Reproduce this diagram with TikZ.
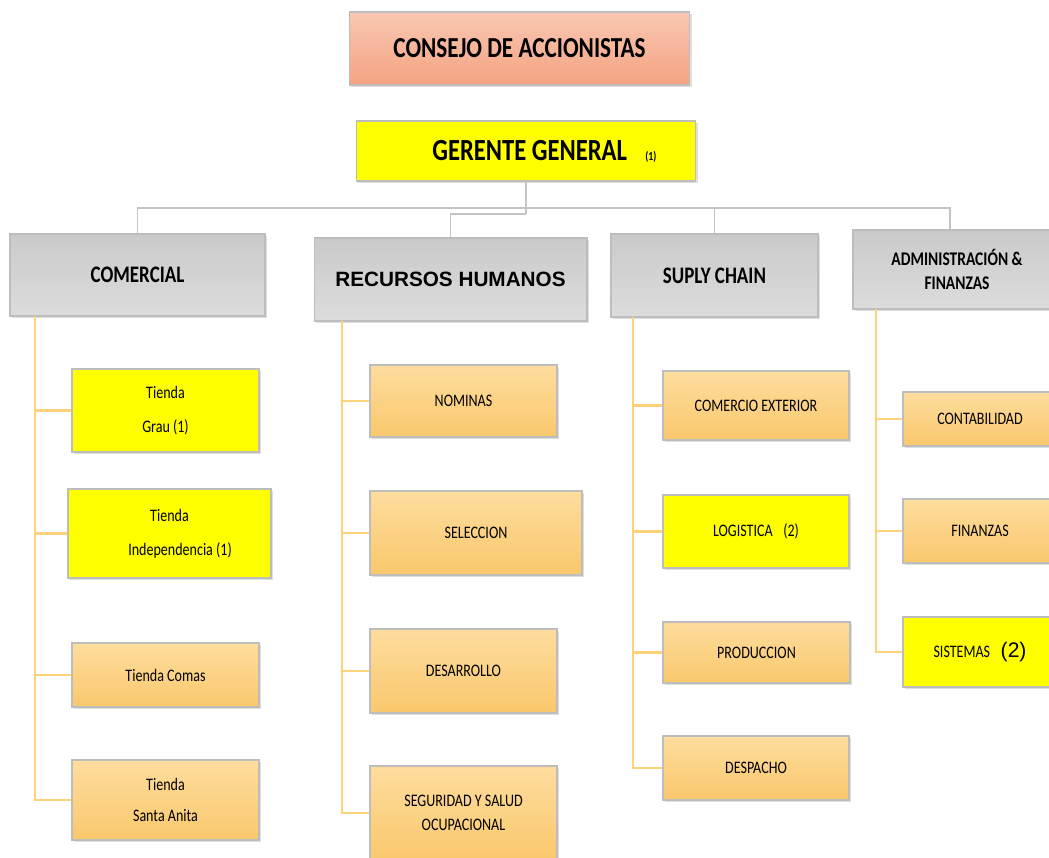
\documentclass[tikz,border=0pt]{standalone}
\usepackage{fontspec}
\setmainfont{Carlito}[FakeStretch=0.8]
\newfontfamily\arialfont{Liberation Sans}
\usetikzlibrary{positioning}
\usetikzlibrary{shadows}

\definecolor{salmontop}{HTML}{F9C8B2}
\definecolor{salmonbot}{HTML}{F4A282}
\definecolor{graytop}{HTML}{CACACA}
\definecolor{graybot}{HTML}{DCDCDC}
\definecolor{orangetop}{HTML}{FEDD9E}
\definecolor{orangebot}{HTML}{F9C86C}
\definecolor{puryellow}{HTML}{FFFF00}
\definecolor{boxline}{HTML}{BDBDBD}
\definecolor{busgray}{HTML}{C4C4C4}
\definecolor{trunkorange}{HTML}{FFD27A}

\tikzset{
    box/.style = {draw=boxline, line width=0.6pt, inner sep=2pt, align=center,
            drop shadow={shadow xshift=1pt, shadow yshift=-1pt, opacity=0.25}},
    headbox/.style = {box, top color=graytop, bottom color=graybot,
            font=\fontsize{13.5}{16}\selectfont\bfseries},
    unitbox/.style = {box, top color=orangetop, bottom color=orangebot,
            font=\fontsize{10}{12.5}\selectfont},
    hotbox/.style = {box, fill=puryellow, font=\fontsize{10}{12.5}\selectfont},
    busline/.style = {draw=busgray, line width=1pt},
    trunk/.style = {draw=trunkorange, line width=1.3pt}
}

\begin{document}
\begin{tikzpicture}[x=0.02cm, y=-0.02cm]
    \useasboundingbox (0,0) rectangle (1049,858);

    % cabeza
    \node[box, top color=salmontop, bottom color=salmonbot,
        minimum width=6.82cm, minimum height=1.46cm,
        font=\fontsize{16.5}{19}\selectfont\bfseries] (consejo) at (519.5,48.5) {CONSEJO DE ACCIONISTAS};
    \node[box, fill=puryellow, minimum width=6.8cm, minimum height=1.2cm,
        font=\fontsize{17.5}{20}\selectfont\bfseries] (gerente) at (526,151)
        {\hspace{1.2em}GERENTE GENERAL\hspace{0.6em}{\fontsize{7}{8}\selectfont (1)}};

    % areas
    \node[headbox, minimum width=5.1cm, minimum height=1.64cm] (com) at (137.5,275) {COMERCIAL};
    \node[headbox, minimum width=5.46cm, minimum height=1.66cm,
        font=\arialfont\fontsize{11.8}{14}\selectfont\bfseries] (rrhh) at (450.5,279.5) {RECURSOS HUMANOS};
    \node[headbox, minimum width=4.14cm, minimum height=1.66cm] (sup) at (714.5,275.5) {SUPLY CHAIN};
    \node[headbox, minimum width=4.16cm, minimum height=1.58cm,
        font=\fontsize{11}{13.5}\selectfont\bfseries] (adm) at (957,269.5) {ADMINISTRACIÓN \&\\FINANZAS};

    % comercial
    \node[hotbox, minimum width=3.74cm, minimum height=1.66cm] (grau) at (165.5,410.5) {Tienda\\[7pt]Grau (1)};
    \node[hotbox, minimum width=4.06cm, minimum height=1.78cm] (indep) at (169.5,533.5) {Tienda\\[7pt]\hspace{1.2em}Independencia (1)};
    \node[unitbox, minimum width=3.74cm, minimum height=1.28cm] (comas) at (165.5,675) {Tienda Comas};
    \node[unitbox, minimum width=3.74cm, minimum height=1.6cm] (anita) at (165.5,800) {Tienda\\[5pt]Santa Anita};

    % recursos humanos
    \node[unitbox, minimum width=3.74cm, minimum height=1.44cm] (nomi) at (463.5,401) {NOMINAS};
    \node[unitbox, minimum width=4.24cm, minimum height=1.68cm] (selec) at (476,533) {SELECCION};
    \node[unitbox, minimum width=3.74cm, minimum height=1.68cm] (desa) at (463.5,671) {DESARROLLO};
    \node[unitbox, minimum width=3.74cm, minimum height=1.88cm] (segu) at (463.5,813) {SEGURIDAD Y SALUD\\[1pt]OCUPACIONAL};

    % supply chain
    \node[unitbox, minimum width=3.72cm, minimum height=1.38cm] (cext) at (756,405.5) {COMERCIO EXTERIOR};
    \node[hotbox, minimum width=3.72cm, minimum height=1.46cm] (logi) at (756,531.5) {LOGISTICA\hspace{0.6em}(2)};
    \node[unitbox, minimum width=3.74cm, minimum height=1.22cm] (prod) at (756.5,652.5) {PRODUCCION};
    \node[unitbox, minimum width=3.72cm, minimum height=1.28cm] (desp) at (756,768) {DESPACHO};

    % administracion
    \node[unitbox, minimum width=3.08cm, minimum height=1.08cm] (conta) at (980,419) {CONTABILIDAD};
    \node[unitbox, minimum width=3.08cm, minimum height=1.28cm] (fina) at (980,531) {FINANZAS};
    \node[hotbox, minimum width=3.08cm, minimum height=1.4cm] (siste) at (980,652)
        {SISTEMAS\hspace{0.6em}{\arialfont\fontsize{12}{14}\selectfont (2)}};

    % lineas grises
    \coordinate (bus) at (526,208);
    \coordinate (bus2) at (526,214);
    \draw[busline] (gerente.south) -- (bus2);
    \draw[busline] (bus2) -| (rrhh.north);
    \draw[busline] (bus) -| (com.north);
    \draw[busline] (bus) -| (sup.north);
    \draw[busline] (bus) -| ([xshift=-0.14cm]adm.north);

    % lineas naranjas
    \coordinate (comt) at (35,316);
    \coordinate (rrht) at (342,321);
    \coordinate (supt) at (633,317);
    \coordinate (admt) at (876,309);
    \foreach \h in {grau,indep,comas,anita}
        \draw[trunk] (comt) |- (\h.west);
    \foreach \h in {nomi,selec,desa,segu}
        \draw[trunk] (rrht) |- (\h.west);
    \foreach \h in {cext,logi,prod,desp}
        \draw[trunk] (supt) |- (\h.west);
    \foreach \h in {conta,fina,siste}
        \draw[trunk] (admt) |- (\h.west);
\end{tikzpicture}
\end{document}
